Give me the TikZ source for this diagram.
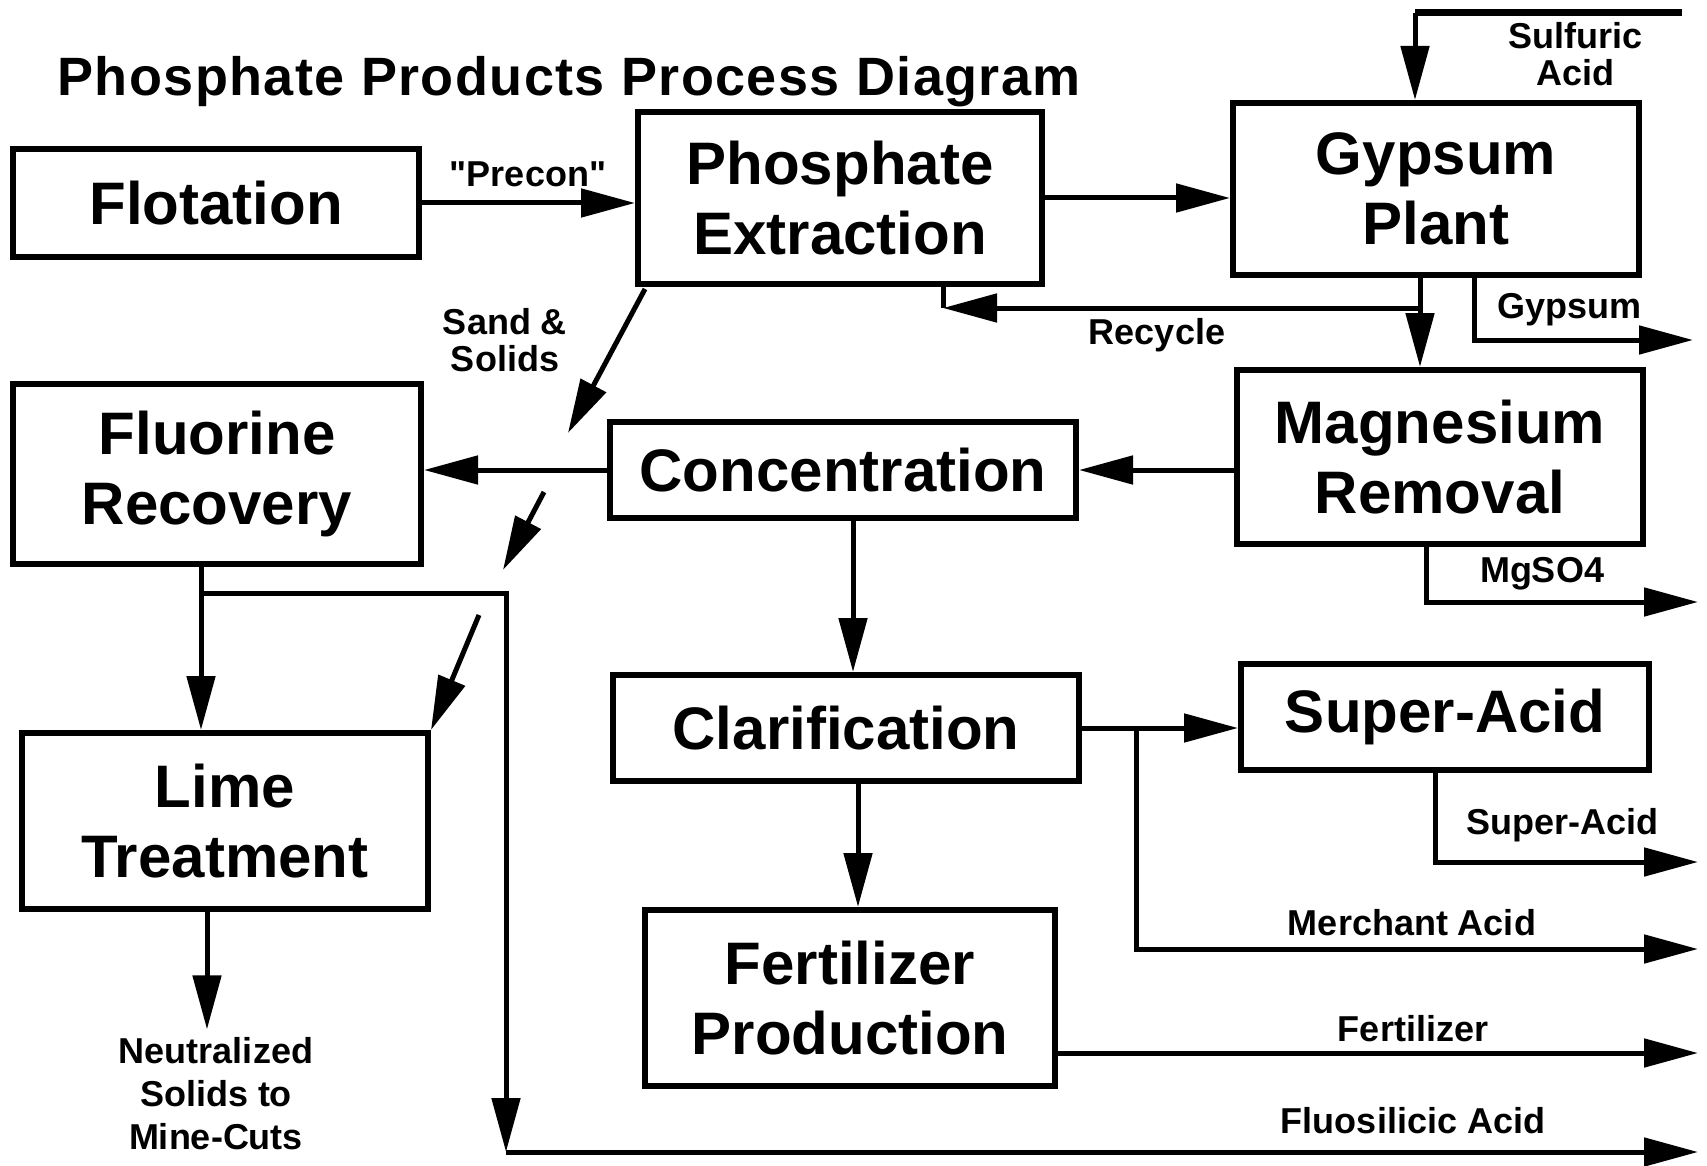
\documentclass[tikz,border=0pt]{standalone}
\usepackage{fontspec}
\setmainfont{Liberation Sans}[Ligatures=TeXOff]
\newfontfamily\TitleFamily{Liberation Sans}[LetterSpace=2.6]
\usepackage{tikz}
\usetikzlibrary{arrows.meta}
\newcommand{\BoxFont}{\fontsize{30}{35}\selectfont\bfseries}
\newcommand{\LabelFont}{\fontsize{18}{18.5}\selectfont\bfseries}
\newcommand{\TitleFont}{\TitleFamily\fontsize{27}{30}\selectfont\bfseries}

\begin{document}
\begin{tikzpicture}[
		x=0.5pt, y=-0.5pt,
		proc/.style={rectangle, draw, line width=3pt, inner sep=0pt, align=center, font=\BoxFont},
		lbl/.style={inner sep=0pt, align=center, font=\LabelFont},
		pipe/.style={line width=2.5pt},
		flow/.style={pipe, -{Triangle[length=27pt, width=14pt]}}
		]
		\useasboundingbox (0,0) rectangle (1707,1166);
		
		% Title
		\node[anchor=base west, inner sep=0pt, font=\TitleFont] (title) at (57,96) {Phosphate Products Process Diagram};
		
		% Process boxes
		\node[proc, minimum width=203pt, minimum height=54pt] (flot) at (216,203) {Flotation};
		\node[proc, minimum width=202pt, minimum height=86pt] (pe) at (840,198) {Phosphate\\Extraction};
		\node[proc, minimum width=203pt, minimum height=86pt] (gyp) at (1436,189) {Gypsum\\Plant};
		\node[proc, minimum width=204pt, minimum height=90pt] (fluor) at (217,474) {Fluorine\\Recovery};
		\node[proc, minimum width=233pt, minimum height=48pt] (conc) at (843,470) {Concentration};
		\node[proc, minimum width=203pt, minimum height=87pt] (mag) at (1440,457) {Magnesium\\Removal};
		\node[proc, minimum width=203pt, minimum height=88pt] (lime) at (225,821) {Lime\\Treatment};
		\node[proc, minimum width=233pt, minimum height=53pt] (clar) at (846,728) {Clarification};
		\node[proc, minimum width=204pt, minimum height=53pt] (sup) at (1445,717) {Super-Acid};
		\node[proc, minimum width=205pt, minimum height=88pt] (fert) at (850,998) {Fertilizer\\Production};
		
		% Free ends and bends
		\coordinate (acidL) at (1415,13);
		\coordinate (acidR) at (1682,13);
		\coordinate (gm) at ([xshift=-8pt]gyp.south);
		\coordinate (rcR) at (1421,308);
		\coordinate (rcL) at (943,308);
		\coordinate (gyO) at ([xshift=19pt]gyp.south);
		\coordinate (gyEnd) at (1693,340);
		\coordinate (mgO) at ([xshift=-7pt]mag.south);
		\coordinate (mgEnd) at (1698,602);
		\coordinate (supO) at ([xshift=-5pt]sup.south);
		\coordinate (supEnd) at (1698,862);
		\coordinate (mb) at (1136,727);
		\coordinate (maEnd) at (1698,949);
		\coordinate (feEnd) at (1698,1053);
		\coordinate (fl) at ([xshift=-8pt]fluor.south);
		\coordinate (fb) at (201,593);
		\coordinate (fsC) at (506,1152);
		\coordinate (fsEnd) at (1698,1152);
		\coordinate (ss1) at (645,289);
		\coordinate (ss2) at (568,433);
		\coordinate (ss3) at (544,492);
		\coordinate (ss4) at (503,570);
		\coordinate (ss5) at (479,615);
		
		% Stream labels
		\node[lbl] (precon) at (528,174) {"Precon"};
		\node[lbl] (acid) at (1575,54) {Sulfuric\\Acid};
		\node[lbl] (recycle) at (1157,335) {Recycle};
		\node[lbl] (gypsum) at (1569,310) {Gypsum};
		\node[lbl] (sand) at (505,340) {Sand \&\\Solids};
		\node[lbl] (mgso) at (1542,574) {MgSO4};
		\node[lbl] (supout) at (1562,825) {Super-Acid};
		\node[lbl] (merch) at (1412,923) {Merchant Acid};
		\node[lbl] (fertout) at (1413,1029) {Fertilizer};
		\node[lbl] (fluos) at (1413,1121) {Fluosilicic Acid};
		\node[lbl, font=\fontsize{18}{21.5}\selectfont\bfseries, inner sep=4pt] (neut) at (216,1094) {Neutralized\\Solids to\\Mine-Cuts};
		
		% Main line
		\draw[flow] (flot.east) -- (flot.east -| pe.west);
		\draw[flow] (pe.east) -- (pe.east -| gyp.west);
		\draw[line width=3.5pt] (acidL) -- (acidR);
		\draw[flow] (acidL) -- (acidL |- gyp.north);
		\draw[flow] (gm) -- (gm |- mag.north);
		\draw[flow] (rcR) -- (rcL);
		\draw[pipe] (rcL) -- (rcL |- pe.south);
		\draw[flow] (gyO) |- (gyEnd);
		\draw[flow] (mag.west |- conc.east) -- (conc.east);
		\draw[flow] (mgO) |- (mgEnd);
		\draw[flow] (conc.west) -- (conc.west -| fluor.east);
		\draw[flow] ([xshift=5pt]conc.south) -- ([xshift=5pt]conc.south |- clar.north);
		\draw[flow] ([xshift=6pt]clar.south) -- ([xshift=6pt]clar.south |- fert.north);
		\draw[flow] (clar.east) -- (clar.east -| sup.west);
		\draw[flow] (supO) |- (supEnd);
		\draw[flow] (mb) |- (maEnd);
		\draw[flow] (fert.east |- feEnd) -- (feEnd);
		
		% Fluorine and lime side
		\draw[flow] (fl) -- (fl |- lime.north);
		\draw[flow] (fb) -| (fsC);
		\draw[flow] (fsC) -- (fsEnd);
		\draw[flow] ([xshift=-9pt]lime.south) -- ([xshift=-9pt]lime.south |- neut.north);
		
		% Sand & solids, broken where it crosses
		\draw[flow] (ss1) -- (ss2);
		\draw[flow] (ss3) -- (ss4);
		\draw[flow] (ss5) -- (lime.north east);
		
	\end{tikzpicture}
\end{document}
